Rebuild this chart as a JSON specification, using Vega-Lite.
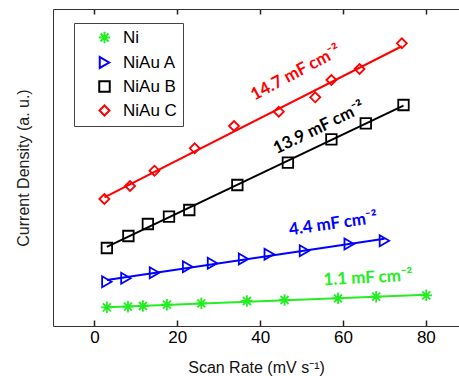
{
  "$schema": "https://vega.github.io/schema/vega-lite/v6.json",
  "width": 406,
  "height": 317,
  "autosize": {"type": "none"},
  "padding": {"left": 53, "top": 9, "right": 0, "bottom": 50},
  "background": "white",
  "config": {"view": {"stroke": null}, "font": "Liberation Sans"},
  "datasets": {
    "pts": [
      {"series": "Ni", "x": 3.0, "y": 18.7},
      {"series": "Ni", "x": 8.1, "y": 19.3},
      {"series": "Ni", "x": 11.7, "y": 20.0},
      {"series": "Ni", "x": 17.5, "y": 21.3},
      {"series": "Ni", "x": 25.8, "y": 22.7},
      {"series": "Ni", "x": 36.8, "y": 25.0},
      {"series": "Ni", "x": 45.9, "y": 26.0},
      {"series": "Ni", "x": 58.8, "y": 27.7},
      {"series": "Ni", "x": 68.0, "y": 29.3},
      {"series": "Ni", "x": 80.1, "y": 30.7},
      {"series": "NiAu A", "x": 3.0, "y": 44.3},
      {"series": "NiAu A", "x": 7.6, "y": 47.7},
      {"series": "NiAu A", "x": 14.5, "y": 53.3},
      {"series": "NiAu A", "x": 22.5, "y": 59.3},
      {"series": "NiAu A", "x": 28.5, "y": 62.7},
      {"series": "NiAu A", "x": 36.0, "y": 67.0},
      {"series": "NiAu A", "x": 42.2, "y": 71.7},
      {"series": "NiAu A", "x": 50.7, "y": 75.3},
      {"series": "NiAu A", "x": 61.5, "y": 82.0},
      {"series": "NiAu A", "x": 70.0, "y": 85.3},
      {"series": "NiAu B", "x": 3.0, "y": 78.0},
      {"series": "NiAu B", "x": 8.2, "y": 90.0},
      {"series": "NiAu B", "x": 12.9, "y": 102.0},
      {"series": "NiAu B", "x": 18.0, "y": 109.3},
      {"series": "NiAu B", "x": 22.9, "y": 116.0},
      {"series": "NiAu B", "x": 34.5, "y": 141.0},
      {"series": "NiAu B", "x": 46.7, "y": 163.3},
      {"series": "NiAu B", "x": 57.2, "y": 186.7},
      {"series": "NiAu B", "x": 65.5, "y": 202.7},
      {"series": "NiAu B", "x": 74.6, "y": 221.0},
      {"series": "NiAu C", "x": 2.4, "y": 127.0},
      {"series": "NiAu C", "x": 8.6, "y": 140.0},
      {"series": "NiAu C", "x": 14.5, "y": 155.3},
      {"series": "NiAu C", "x": 24.2, "y": 177.7},
      {"series": "NiAu C", "x": 33.7, "y": 200.0},
      {"series": "NiAu C", "x": 44.5, "y": 214.3},
      {"series": "NiAu C", "x": 53.3, "y": 228.7},
      {"series": "NiAu C", "x": 57.2, "y": 246.0},
      {"series": "NiAu C", "x": 64.0, "y": 257.0},
      {"series": "NiAu C", "x": 74.2, "y": 282.7}
    ]
  },
  "resolve": {"axis": {"x": "independent", "y": "independent"}, "legend": {"color": "independent", "shape": "independent", "size": "independent"}},
  "layer": [
    {
      "data": {"name": "pts"},
      "mark": {"type": "point", "filled": false, "strokeWidth": 1.8, "opacity": 1},
      "encoding": {
        "x": {"field": "x", "type": "quantitative", "scale": {"domain": [-10, 88], "nice": false, "zero": false},
              "axis": {"orient": "bottom", "values": [0, 20, 40, 60, 80], "grid": false, "ticks": true, "tickSize": -6, "tickWidth": 1.5, "tickColor": "#222", "labelPadding": 9,
                       "domainColor": "#333", "labelFontSize": 17, "labelColor": "#000",
                       "title": "Scan Rate (mV s⁻¹)", "titleFontSize": 16, "titleFontWeight": "normal", "titleColor": "#111", "titlePadding": 14}},
        "y": {"field": "y", "type": "quantitative", "scale": {"domain": [0, 317], "nice": false},
              "axis": {"ticks": false, "labels": false, "grid": false, "domainColor": "#333",
                       "title": "Current Density (a. u.)", "titleFontSize": 16, "titleFontWeight": "normal", "titleColor": "#222", "titlePadding": 22}},
        "color": {"field": "series", "type": "nominal",
                  "scale": {"domain": ["Ni", "NiAu A", "NiAu B", "NiAu C"], "range": ["#22ee22", "#0000ff", "#000000", "#ff0000"]},
                  "legend": {"title": null, "orient": "none", "legendX": 21, "legendY": 14, "fillColor": "white", "strokeColor": "#444",
                             "padding": 6, "rowPadding": 5, "symbolOffset": 16, "labelOffset": 10, "labelFontSize": 17, "labelColor": "#000",
                             "symbolStrokeWidth": 2, "symbolSize": 100}},
        "shape": {"field": "series", "type": "nominal",
                  "scale": {"domain": ["Ni", "NiAu A", "NiAu B", "NiAu C"],
                            "range": ["M-1,0L1,0M0,-1L0,1M-0.7,-0.7L0.7,0.7M-0.7,0.7L0.7,-0.7", "triangle-right", "square", "diamond"]}},
        "size": {"field": "series", "type": "nominal", "legend": null,
                 "scale": {"domain": ["Ni", "NiAu A", "NiAu B", "NiAu C"], "range": [130, 100, 60, 150]}}
      }
    },
    {
      "data": {"name": "pts"},
      "transform": [{"regression": "y", "on": "x", "groupby": ["series"]}],
      "mark": {"type": "line", "strokeWidth": 2},
      "encoding": {
        "x": {"field": "x", "type": "quantitative",
              "axis": {"orient": "top", "values": [0, 20, 40, 60, 80], "labels": false, "grid": false, "ticks": true, "tickSize": -5, "tickWidth": 1.5, "tickColor": "#222", "domainColor": "#333", "title": null}},
        "y": {"field": "y", "type": "quantitative", "axis": null},
        "color": {"field": "series", "type": "nominal", "legend": null}
      }
    },
    {
      "data": {"values": [{"x": 48.6, "y": 253, "label": "14.7 mF cm⁻²"}]},
      "mark": {"type": "text", "angle": -28, "color": "#ff0000", "font": "Lato", "fontWeight": "bold", "fontSize": 17, "align": "center", "baseline": "middle"},
      "encoding": {"x": {"field": "x", "type": "quantitative", "axis": null}, "y": {"field": "y", "type": "quantitative", "axis": null}, "text": {"field": "label"}}
    },
    {
      "data": {"values": [{"x": 54.2, "y": 198, "label": "13.9 mF cm⁻²"}]},
      "mark": {"type": "text", "angle": -26, "color": "#000000", "font": "Lato", "fontWeight": "bold", "fontSize": 17, "align": "center", "baseline": "middle"},
      "encoding": {"x": {"field": "x", "type": "quantitative", "axis": null}, "y": {"field": "y", "type": "quantitative", "axis": null}, "text": {"field": "label"}}
    },
    {
      "data": {"values": [{"x": 57.6, "y": 102, "label": "4.4 mF cm⁻²"}]},
      "mark": {"type": "text", "angle": -8, "color": "#0000ff", "font": "Lato", "fontWeight": "bold", "fontSize": 17, "align": "center", "baseline": "middle"},
      "encoding": {"x": {"field": "x", "type": "quantitative", "axis": null}, "y": {"field": "y", "type": "quantitative", "axis": null}, "text": {"field": "label"}}
    },
    {
      "data": {"values": [{"x": 66.0, "y": 48, "label": "1.1 mF cm⁻²"}]},
      "mark": {"type": "text", "angle": -3, "color": "#22ee22", "font": "Lato", "fontWeight": "bold", "fontSize": 17, "align": "center", "baseline": "middle"},
      "encoding": {"x": {"field": "x", "type": "quantitative", "axis": null}, "y": {"field": "y", "type": "quantitative", "axis": null}, "text": {"field": "label"}}
    }
  ]
}
